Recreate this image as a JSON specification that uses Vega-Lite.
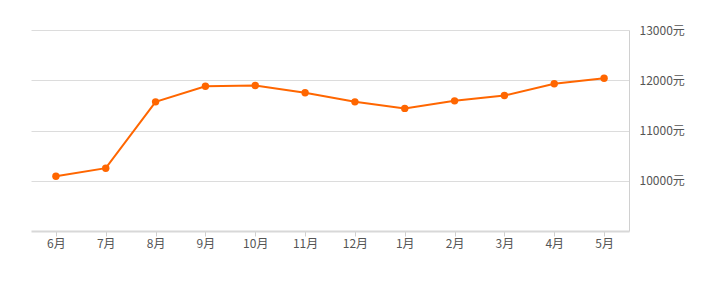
{
  "$schema": "https://vega.github.io/schema/vega-lite/v6.json",
  "width": 598,
  "height": 201,
  "autosize": {"type": "none"},
  "padding": {"left": 31, "top": 30, "right": 87, "bottom": 51},
  "background": "white",
  "config": {"view": {"stroke": null}, "font": "Noto Sans CJK SC"},
  "data": {"values": [
    {"month": "6月", "price": 10090},
    {"month": "7月", "price": 10250},
    {"month": "8月", "price": 11570},
    {"month": "9月", "price": 11880},
    {"month": "10月", "price": 11895},
    {"month": "11月", "price": 11750},
    {"month": "12月", "price": 11570},
    {"month": "1月", "price": 11440},
    {"month": "2月", "price": 11590},
    {"month": "3月", "price": 11695},
    {"month": "4月", "price": 11930},
    {"month": "5月", "price": 12040}
  ]},
  "encoding": {
    "x": {
      "field": "month", "type": "ordinal", "sort": null,
      "scale": {"type": "point", "padding": 0.5},
      "axis": {
        "title": null, "labelAngle": 0, "domainColor": "#d8d8d8", "domainWidth": 2,
        "tickColor": "#d0d0d0", "tickSize": 5, "labelColor": "#555555",
        "labelFontSize": 12, "labelPadding": 2
      }
    },
    "y": {
      "field": "price", "type": "quantitative",
      "scale": {"domain": [9000, 13000], "nice": false},
      "axis": {
        "orient": "right", "title": null, "values": [10000, 11000, 12000, 13000],
        "labelExpr": "datum.value + '元'", "ticks": false, "domainColor": "#d0d0d0",
        "gridColor": "#dcdcdc", "labelColor": "#555555", "labelFontSize": 12,
        "labelPadding": 10
      }
    }
  },
  "layer": [
    {"mark": {"type": "line", "color": "#ff6600", "strokeWidth": 2}},
    {"mark": {"type": "point", "filled": true, "color": "#ff6600", "opacity": 1, "size": 55}}
  ]
}
